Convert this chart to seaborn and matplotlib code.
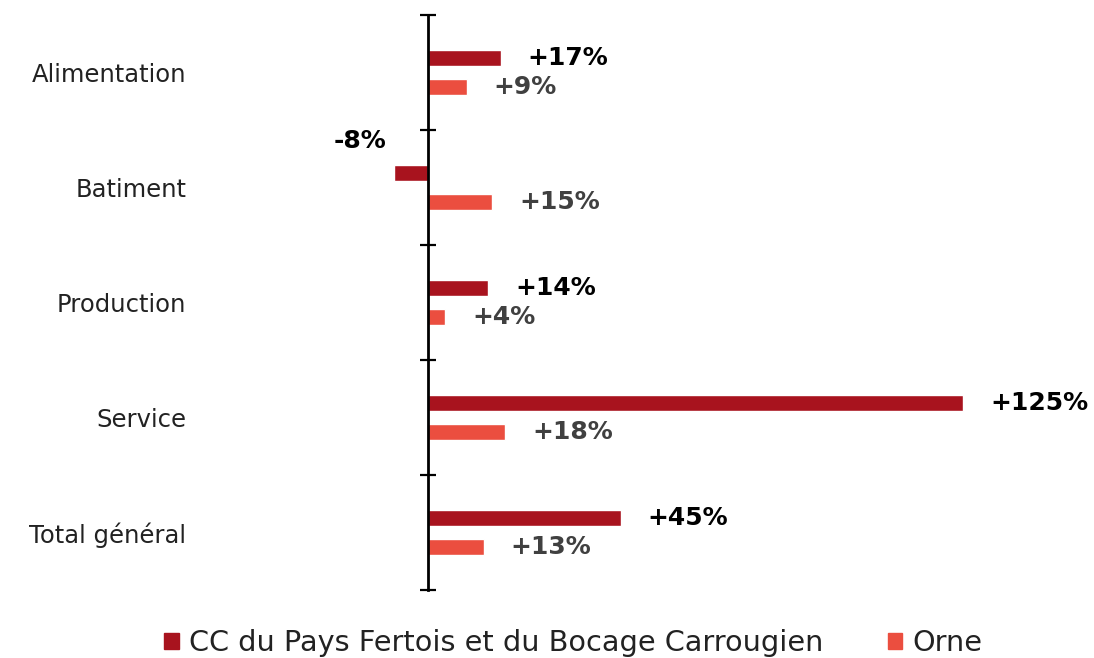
import matplotlib
matplotlib.use("Agg")
import matplotlib.pyplot as plt
import seaborn as sns
import pandas as pd
from matplotlib.ticker import FixedLocator

categories = ["Alimentation", "Batiment", "Production", "Service", "Total général"]
series_names = ["CC du Pays Fertois et du Bocage Carrougien", "Orne"]
cc_values = [17, -8, 14, 125, 45]
orne_values = [9, 15, 4, 18, 13]
colors = ["#A8131E", "#EB4E3F"]
label_colors = ["#000000", "#404040"]

df = pd.DataFrame({
    "cat": categories * 2,
    "serie": [series_names[0]] * len(categories) + [series_names[1]] * len(categories),
    "val": cc_values + orne_values,
})

sns.set_theme(style="white")
plt.rcParams["font.family"] = ["DejaVu Sans"]

fig = plt.figure(figsize=(10.94, 6.58), dpi=100)
ax = fig.add_axes([200 / 1094, 1 - 590 / 658, 880 / 1094, 575 / 658])

sns.barplot(data=df, y="cat", x="val", hue="serie", order=categories,
            hue_order=series_names, palette=colors, orient="h", saturation=1,
            width=0.5, gap=0.46, ax=ax, legend=True)

ppx = 4.28
ax.set_xlim(-228 / ppx, 652 / ppx)
ax.set_ylim(4.5, -0.5)

for s in ["top", "right", "bottom"]:
    ax.spines[s].set_visible(False)
ax.spines["left"].set_position(("data", 0))
ax.spines["left"].set_linewidth(2.0)
ax.spines["left"].set_color("black")
ax.set_xticks([])
ax.set_xlabel("")
ax.set_ylabel("")

ax.yaxis.set_minor_locator(FixedLocator([i - 0.5 for i in range(len(categories) + 1)]))
ax.tick_params(axis="y", which="minor", direction="inout", length=11, width=1.6, color="black", left=True)
ax.tick_params(axis="y", which="major", length=0, pad=174, labelsize=17.5, labelcolor="#222222")
for t in ax.get_yticklabels():
    t.set_horizontalalignment("right")

# value labels
for si, (vals, lc) in enumerate(zip([cc_values, orne_values], label_colors)):
    for ci, v in enumerate(vals):
        yoff = -0.125 if si == 0 else 0.125
        txt = f"{v:+d}%"
        if v >= 0:
            ax.annotate(txt, xy=(v, ci + yoff), xytext=(19.5, 0), textcoords="offset points",
                        ha="left", va="center", fontsize=18, fontweight="bold", color=lc,
                        annotation_clip=False)
        else:
            ax.annotate(txt, xy=(v, ci + yoff), xytext=(-5, 23), textcoords="offset points",
                        ha="right", va="center", fontsize=18, fontweight="bold", color=lc,
                        annotation_clip=False)

leg = ax.get_legend()
leg.remove()
handles = [plt.Rectangle((0, 0), 1, 1, color=c) for c in colors]
fig.legend(handles, series_names, loc="center", bbox_to_anchor=(0.524, 1 - 643 / 658),
           ncol=2, frameon=False, fontsize=20.7, handlelength=0.5, handleheight=0.5,
           handletextpad=0.35, columnspacing=2.25, labelcolor="#222222")

fig.savefig("out.png", dpi=100)
